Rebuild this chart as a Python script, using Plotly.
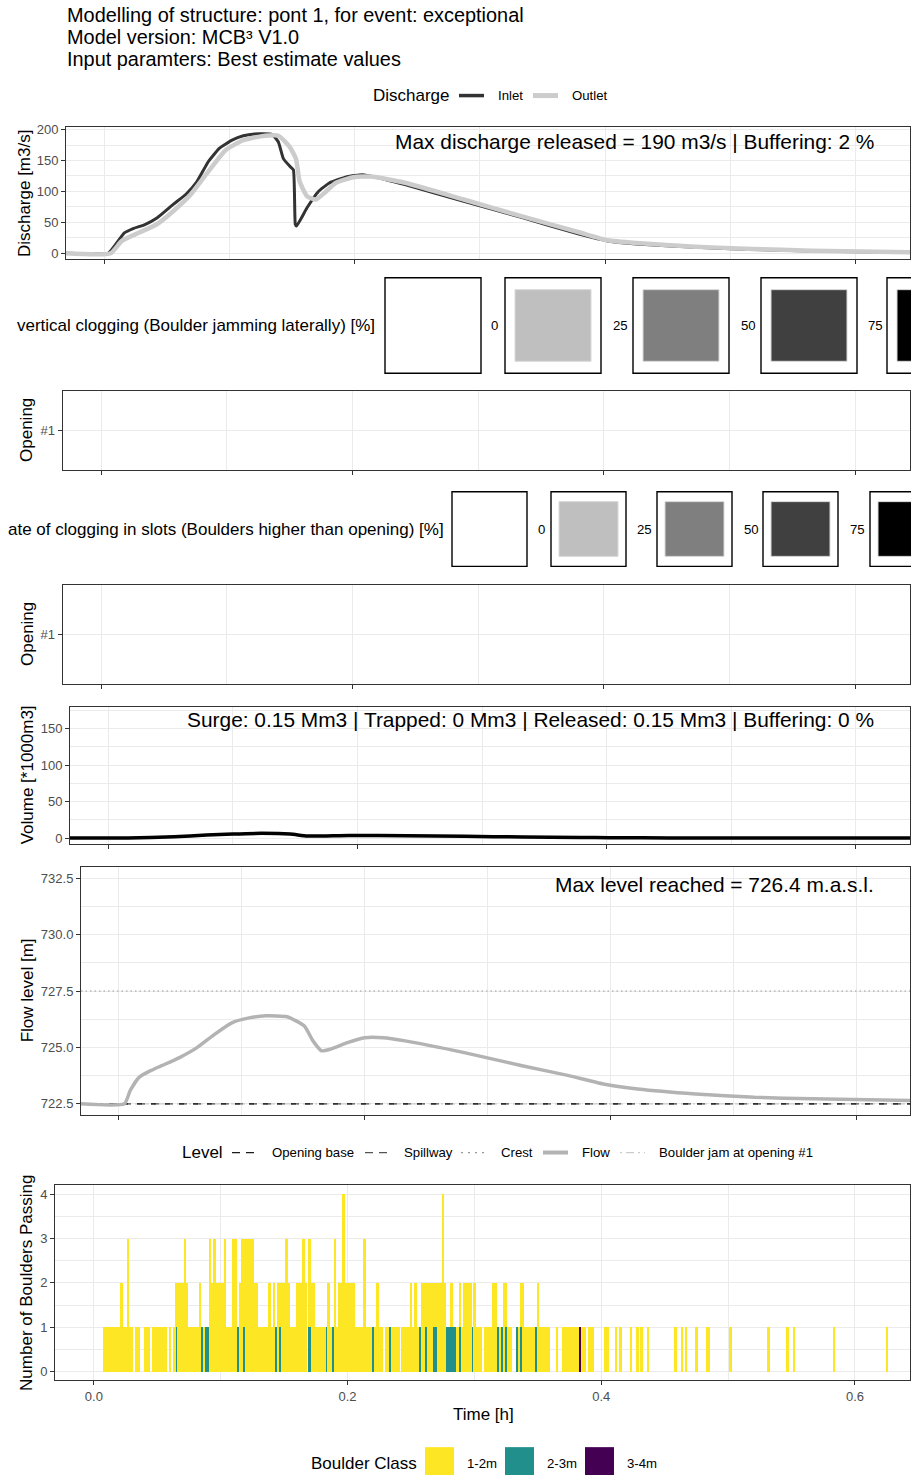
import plotly.graph_objects as go

# ---------------------------------------------------------------- data
title_lines = ["Modelling of structure: pont 1, for event: exceptional",
               "Model version: MCB³ V1.0",
               "Input paramters: Best estimate values"]

# discharge hydrographs [m3/s] vs time [h]
inlet_time = [-0.031, 0.003, 0.0093, 0.016, 0.023, 0.032, 0.042, 0.055, 0.065, 0.074,
              0.083, 0.092, 0.102, 0.111, 0.120, 0.134, 0.139, 0.143, 0.148, 0.151,
              0.1525, 0.1535, 0.162, 0.171, 0.180, 0.194, 0.206, 0.217, 0.240, 0.287,
              0.333, 0.379, 0.402, 0.425, 0.472, 0.518, 0.564, 0.613, 0.645]
inlet_q = [0, 0, 15, 33, 40, 46, 57, 79, 95, 116,
           148, 170, 183, 190, 193, 192, 180, 153, 141, 135,
           47, 44, 74, 100, 114, 124, 127, 123, 111, 84,
           58, 31, 20, 15, 9.6, 6, 3.7, 2, 1.6]
outlet_time = [-0.031, 0.005, 0.014, 0.028, 0.042, 0.055, 0.069, 0.083, 0.097, 0.111,
               0.125, 0.139, 0.148, 0.153, 0.156, 0.162, 0.169, 0.176, 0.185, 0.199,
               0.213, 0.240, 0.287, 0.333, 0.379, 0.402, 0.425, 0.472, 0.518, 0.564, 0.645]
outlet_q = [0, 0, 20, 33.6, 47, 68, 95, 132, 167, 183,
            189, 190, 172, 153, 116, 92, 87, 98, 114, 123,
            124, 114, 87, 60, 34, 21, 16.5, 10.7, 7, 4.3, 1.6]
discharge_note = "Max discharge released = 190 m3/s | Buffering: 2 %"

# clogging (no clogging occurred -> empty panels); legend titles as far as visible
openings = ["#1"]
clog_levels = [0, 25, 50, 75, 100]
clog_fills = ["#FFFFFF", "#BFBFBF", "#7F7F7F", "#404040", "#000000"]
clog_title_vertical = "vertical clogging (Boulder jamming laterally) [%]"
clog_title_slots = "ate of clogging in slots (Boulders higher than opening) [%]"

# volume [*1000 m3]
volume_time = [-0.031, 0.016, 0.053, 0.079, 0.100, 0.123, 0.146, 0.160, 0.193, 0.240,
               0.286, 0.333, 0.379, 0.402, 0.450, 0.645]
volume_k = [0, 0, 1.8, 4, 5.5, 6.4, 5.5, 2.7, 3.6, 3.2,
            2.3, 1.4, 0.9, 0.45, 0.2, 0.1]
volume_note = "Surge: 0.15 Mm3 | Trapped: 0 Mm3 | Released: 0.15 Mm3 | Buffering: 0 %"

# flow level [m a.s.l.]
flow_time = [-0.031, 0.0047, 0.0094, 0.0165, 0.026, 0.035, 0.0495, 0.0637, 0.078, 0.092,
             0.106, 0.120, 0.137, 0.151, 0.158, 0.165, 0.172, 0.186, 0.200, 0.215,
             0.233, 0.281, 0.328, 0.366, 0.394, 0.422, 0.469, 0.517, 0.564, 0.645]
flow_level = [722.5, 722.5, 723.09, 723.67, 723.97, 724.19, 724.55, 724.99, 725.58, 726.09,
              726.31, 726.4, 726.36, 725.95, 725.29, 724.85, 724.92, 725.21, 725.43, 725.43,
              725.29, 724.77, 724.19, 723.75, 723.38, 723.16, 722.94, 722.79, 722.72, 722.65]
level_opening_base = 722.5
level_spillway = 722.5
level_crest = 727.5
level_boulder_jam = 722.5
level_note = "Max level reached = 726.4 m.a.s.l."
level_names = ["Opening base", "Spillway", "Crest", "Flow", "Boulder jam at opening #1"]
note_time = 0.616

# boulders passing per 6 s bin
boulder_bin_h = 6 / 3600
boulder_first_bin = 0.00867
boulders_1_2m = [
    1, 1, 1, 1, 1, 1, 1, 1, 2, 1, 1, 3, 1, 1, 0, 1, 1, 0, 0, 1,
    1, 1, 0, 1, 1, 1, 1, 1, 1, 1, 0, 1, 0, 1, 1, 2, 2, 2, 3, 2,
    1, 1, 1, 1, 1, 2, 0, 1, 0, 0, 3, 2, 3, 2, 2, 2, 2, 3, 1, 1,
    1, 3, 3, 0, 2, 3, 2, 3, 3, 3, 3, 2, 2, 1, 1, 1, 1, 1, 2, 1,
    2, 0, 2, 1, 2, 2, 3, 2, 1, 1, 1, 2, 2, 2, 3, 2, 0, 2, 2, 2,
    1, 1, 1, 1, 1, 0, 2, 1, 0, 3, 1, 2, 2, 4, 2, 2, 2, 2, 2, 1,
    1, 1, 1, 3, 1, 1, 1, 0, 1, 2, 1, 1, 0, 1, 1, 0, 1, 1, 1, 1,
    0, 1, 1, 1, 1, 2, 1, 2, 1, 0, 2, 2, 1, 2, 2, 2, 1, 1, 2, 2,
    4, 2, 0, 0, 1, 0, 0, 1, 1, 1, 2, 2, 2, 2, 0, 2, 1, 1, 1, 0,
    1, 1, 1, 1, 2, 2, 0, 1, 0, 2, 1, 1, 1, 0, 0, 0, 1, 1, 2, 1,
    1, 1, 1, 1, 0, 2, 1, 1, 1, 1, 1, 0, 0, 0, 1, 0, 0, 1, 1, 1,
    1, 1, 1, 1, 1, 0, 1, 1, 0, 1, 1, 1, 0, 0, 0, 0, 0, 1, 1, 0,
    0, 0, 1, 0, 1, 0, 0, 0, 0, 1, 0, 0, 1, 0, 1, 0, 0, 1, 0, 0,
    0, 0, 0, 0, 0, 0, 0, 0, 0, 0, 1, 0, 0, 1, 0, 1, 0, 0, 0, 0,
    1, 0, 0, 0, 0, 1, 1, 0, 0, 0, 0, 0, 0, 0, 0, 0, 1, 0, 0, 0,
    0, 0, 0, 0, 0, 0, 0, 0, 0, 0, 0, 0, 0, 0, 1, 0, 0, 0, 0, 0,
    0, 0, 0, 1, 0, 0, 1, 0, 0, 0, 0, 0, 0, 0, 0, 0, 0, 0, 0, 0,
    0, 0, 0, 0, 0, 1, 0, 0, 0, 0, 0, 0, 0, 0, 0, 0, 0, 0, 0, 0,
    0, 0, 0, 0, 0, 0, 0, 0, 0, 0, 1]
# bins holding one boulder of the larger classes
boulders_2_3m_bins = [34, 46, 48, 49, 63, 66, 81, 83, 97, 105, 108, 127, 135, 149, 152,
                      156, 157, 162, 163, 164, 165, 166, 168, 174, 186, 188, 190, 195, 197, 204]
boulders_3_4m_bins = [225]
boulder_classes = ["1-2m", "2-3m", "3-4m"]
boulder_colors = ["#FDE725", "#21908C", "#440154"]

time_ticks = [0.0, 0.2, 0.4, 0.6]
time_minor = [0.1, 0.3, 0.5]
time_range = [-0.0306, 0.6434]

# ---------------------------------------------------------------- layout helpers
FONT = "Liberation Sans, Arial, Helvetica, sans-serif"
W, H = 911, 1478
AXIS = "#333333"
TICKTXT = "#4D4D4D"
GRID = "#EBEBEB"


def fx(p):
    return p / W


def fy(p):
    return 1 - p / H


# panel boxes in pixels: left, top, right, bottom
panels = {
    1: (66, 122.5, 910, 255.5),
    2: (62.6, 387.7, 910, 467),
    3: (62.6, 583, 910, 682),
    4: (70, 705, 910, 843),
    5: (81, 866, 910, 1115.4),
    6: (55, 1186, 910, 1382),
}

fig = go.Figure()


def sfx(i):
    return "" if i == 1 else str(i)


# discharge
fig.add_trace(go.Scatter(x=inlet_time, y=inlet_q, mode="lines", name="Inlet",
                         line=dict(color="#333333", width=3, shape="spline", smoothing=0.4),
                         xaxis="x", yaxis="y", showlegend=False))
fig.add_trace(go.Scatter(x=outlet_time, y=outlet_q, mode="lines", name="Outlet",
                         line=dict(color="#CCCCCC", width=4.5, shape="spline", smoothing=0.5),
                         xaxis="x", yaxis="y", showlegend=False))
# clogging panels (empty)
fig.add_trace(go.Scatter(x=[], y=[], mode="markers", xaxis="x2", yaxis="y2", showlegend=False))
fig.add_trace(go.Scatter(x=[], y=[], mode="markers", xaxis="x3", yaxis="y3", showlegend=False))
# volume
fig.add_trace(go.Scatter(x=volume_time, y=volume_k, mode="lines", name="Volume",
                         line=dict(color="#000000", width=3.5, shape="spline", smoothing=0.6),
                         xaxis="x4", yaxis="y4", showlegend=False))
# level reference lines (spanning the panel)
for val, color, dash in [(level_boulder_jam, "#CCCCCC", "2px,4px,8px,4px"),
                         (level_spillway, "#555555", "8px,6px"),
                         (level_opening_base, "#1A1A1A", "5px,9px"),
                         (level_crest, "#999999", "1.5px,3px")]:
    fig.add_trace(go.Scatter(x=time_range, y=[val, val], mode="lines",
                             line=dict(color=color, width=1.1, dash=dash),
                             xaxis="x5", yaxis="y5", showlegend=False, hoverinfo="skip"))
# flow level
fig.add_trace(go.Scatter(x=flow_time, y=flow_level, mode="lines", name="Flow",
                         line=dict(color="#B3B3B3", width=3.5, shape="spline", smoothing=0.5),
                         xaxis="x5", yaxis="y5", showlegend=False))

# boulders
n_bins = len(boulders_1_2m)
bin_time = [boulder_first_bin + k * boulder_bin_h for k in range(n_bins)]
count_2_3m = [1 if k in boulders_2_3m_bins else 0 for k in range(n_bins)]
count_3_4m = [1 if k in boulders_3_4m_bins else 0 for k in range(n_bins)]
for counts, name, color in [(count_3_4m, boulder_classes[2], boulder_colors[2]),
                            (count_2_3m, boulder_classes[1], boulder_colors[1]),
                            (boulders_1_2m, boulder_classes[0], boulder_colors[0])]:
    fig.add_trace(go.Bar(x=bin_time, y=counts, name=name, width=0.9 * boulder_bin_h,
                         marker=dict(color=color, line=dict(width=0)),
                         xaxis="x6", yaxis="y6", showlegend=False))

tickfont = dict(family=FONT, size=13, color=TICKTXT)
common = dict(showline=True, mirror=True, linecolor=AXIS, linewidth=1, ticks="outside",
              ticklen=4, tickcolor=AXIS, tickwidth=1, showgrid=True, gridcolor=GRID,
              gridwidth=1.2, zeroline=False, tickfont=tickfont, fixedrange=True)

yspecs = {
    1: dict(range=[-9.7, 204.3], tickvals=[0, 50, 100, 150, 200],
            minor=dict(tickvals=[25, 75, 125, 175], showgrid=True, gridcolor=GRID, gridwidth=0.6)),
    2: dict(range=[0.4, 1.6], tickvals=[1], ticktext=openings),
    3: dict(range=[0.4, 1.6], tickvals=[1], ticktext=openings),
    4: dict(range=[-8.2, 180.3], tickvals=[0, 50, 100, 150],
            minor=dict(tickvals=[25, 75, 125, 175], showgrid=True, gridcolor=GRID, gridwidth=0.6)),
    5: dict(range=[722, 733], tickvals=[722.5, 725, 727.5, 730, 732.5], tickformat=".1f",
            minor=dict(tickvals=[723.75, 726.25, 728.75, 731.25], showgrid=True, gridcolor=GRID,
                       gridwidth=0.6)),
    6: dict(range=[-0.2, 4.2], tickvals=[0, 1, 2, 3, 4],
            minor=dict(tickvals=[0.5, 1.5, 2.5, 3.5], showgrid=True, gridcolor=GRID, gridwidth=0.6)),
}

layout = {}
for i, (l, t, r, b) in panels.items():
    layout["xaxis" + sfx(i)] = dict(common, domain=[fx(l), fx(r)], anchor="y" + sfx(i),
                                    range=time_range, tickvals=time_ticks, tickformat=".1f",
                                    showticklabels=(i == 6),
                                    minor=dict(tickvals=time_minor, showgrid=True,
                                               gridcolor=GRID, gridwidth=0.6))
    layout["yaxis" + sfx(i)] = dict(common, domain=[fy(b), fy(t)], anchor="x" + sfx(i),
                                    **yspecs[i])

annotations = []
shapes = []


def text(x, y, s, size, anchor="left", color="#000000", angle=0):
    annotations.append(dict(x=fx(x), y=fy(y), xref="paper", yref="paper", text=s,
                            showarrow=False, xanchor=anchor, yanchor="middle", textangle=angle,
                            font=dict(family=FONT, size=size, color=color)))


def pline(x0, x1, y, color, width, dash="solid"):
    shapes.append(dict(type="line", xref="paper", yref="paper", x0=fx(x0), x1=fx(x1),
                       y0=fy(y), y1=fy(y), line=dict(color=color, width=width, dash=dash)))


def prect(x0, y0, x1, y1, fill, lc, lw):
    shapes.append(dict(type="rect", xref="paper", yref="paper", x0=fx(x0), x1=fx(x1),
                       y0=fy(y1), y1=fy(y0), fillcolor=fill,
                       line=dict(color=lc, width=lw)))


# titles
for k, line in enumerate(title_lines):
    text(65, 10 + 22 * k, line, 19.9)

# discharge legend
text(371, 91, "Discharge", 17)
pline(459, 484, 91, "#333333", 3.5)
text(496, 91, "Inlet", 13.2)
pline(533, 558, 91, "#CCCCCC", 5)
text(570, 91, "Outlet", 13.2)

# stats notes (data coordinates)
for xa, ya, yv, s in [("x", "y", 181, discharge_note), ("x4", "y4", 162.5, volume_note),
                      ("x5", "y5", 732.2, level_note)]:
    annotations.append(dict(x=note_time, y=yv, xref=xa, yref=ya, text=s, showarrow=False,
                            xanchor="right", yanchor="middle",
                            font=dict(family=FONT, size=20.9, color="#000000")))

# clogging legends
clog_legends = [
    dict(title=clog_title_vertical, title_right=377, yc=322, size=96, inset=10,
         lefts=[385, 505, 633, 761, 887], labels_x=[489, 611, 739, 866]),
    dict(title=clog_title_slots, title_right=446, yc=526.5, size=75, inset=8,
         lefts=[452, 551, 657, 763, 870], labels_x=[536, 635, 742, 848]),
]
for lg in clog_legends:
    text(lg["title_right"], lg["yc"], lg["title"], 17, anchor="right")
    top = lg["yc"] - lg["size"] / 2
    for j, (lev, fill) in enumerate(zip(clog_levels, clog_fills)):
        x0 = lg["lefts"][j]
        prect(x0, top, x0 + lg["size"], top + lg["size"], "#FFFFFF", "#000000", 1.4)
        ins = lg["inset"]
        prect(x0 + ins, top + ins + 2, x0 + lg["size"] - ins, top + lg["size"] - ins - 2, fill,
              "#D9D9D9" if lev else "#FFFFFF", 1 if lev else 0)
        if j < len(lg["labels_x"]):
            text(lg["labels_x"][j], lg["yc"], str(lev), 13.2)

# level legend
text(180, 1153, "Level", 17)
level_keys = [(232, 254, "#1A1A1A", 1.3, "8px,6px"), (365, 387, "#555555", 1.3, "8px,6px"),
              (461, 486, "#999999", 1.3, "2px,5px"), (543, 568, "#B3B3B3", 4, "solid"),
              (620, 645, "#CCCCCC", 1.3, "2px,4px,8px,4px")]
level_label_x = [270, 402, 499, 580, 657]
for (kx0, kx1, color, width, dash), lx, name in zip(level_keys, level_label_x, level_names):
    pline(kx0, kx1, 1153, color, width, dash)
    text(lx, 1153, name, 13.2)

# boulder legend
text(309, 1465, "Boulder Class", 17)
for kx, lx, name, color in zip([425, 505, 585], [465, 545, 625], boulder_classes, boulder_colors):
    prect(kx, 1449, kx + 29, 1477, color, color, 0)
    text(lx, 1465, name, 13.2)

# axis titles
for x, y, s in [(24, 189, "Discharge [m3/s]"), (27, 427, "Opening"), (27, 632, "Opening"),
                (27, 774, "Volume [*1000m3]"), (27, 990, "Flow level [m]"),
                (27, 1284, "Number of Boulders Passing")]:
    text(x, y, s, 17, anchor="center", angle=-90)
text(483, 1416, "Time [h]", 17, anchor="center")

fig.update_layout(width=W, height=H, margin=dict(l=0, r=0, t=0, b=0),
                  paper_bgcolor="white", plot_bgcolor="white", showlegend=False,
                  barmode="stack", font=dict(family=FONT), annotations=annotations,
                  shapes=shapes, **layout)

fig.write_html("out.html", config={"displayModeBar": False},
               post_script="document.body.style.margin='0px';")
